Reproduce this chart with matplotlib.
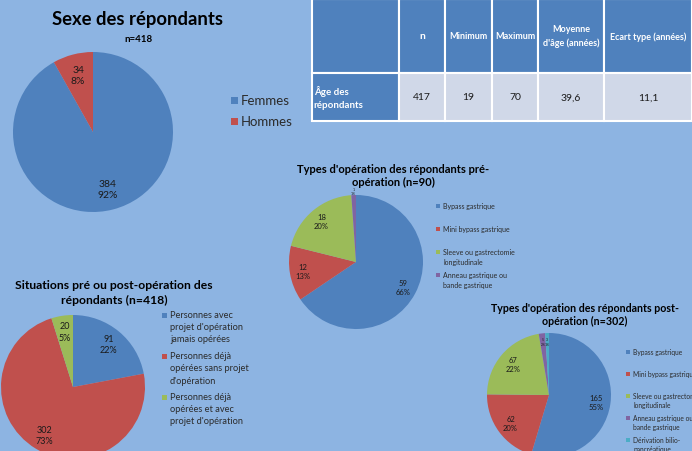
import numpy as np
import matplotlib
matplotlib.use('Agg')
import matplotlib.pyplot as plt
from matplotlib.patches import Rectangle

plt.rcParams['font.family'] = ['Lato', 'DejaVu Sans']

# --- données ---
sexe_labels = ['Femmes', 'Hommes']
sexe_n = [384, 34]
sexe_pct = [92, 8]

pre_labels = ['Bypass gastrique', 'Mini bypass gastrique',
              'Sleeve ou gastrectomie\nlongitudinale', 'Anneau gastrique ou\nbande gastrique']
pre_n = [59, 12, 18, 1]
pre_pct = [66, 13, 20, 1]

sit_labels = ["Personnes avec\nprojet d'opération\njamais opérées",
              "Personnes déjà\nopérées sans projet\nd'opération",
              "Personnes déjà\nopérées et avec\nprojet d'opération"]
sit_n = [91, 302, 20]
sit_pct = [22, 73, 5]

post_labels = ['Bypass gastrique', 'Mini bypass gastrique',
               'Sleeve ou gastrectomie\nlongitudinale', 'Anneau gastrique ou\nbande gastrique',
               'Dérivation bilio-\npancréatique']
post_n = [165, 62, 67, 5, 3]
post_pct = [55, 20, 22, 2, 1]

age_cols = ['', 'n', 'Minimum', 'Maximum', "Moyenne\nd'âge (années)", 'Ecart type (années)']
age_row = ['Âge des\nrépondants', '417', '19', '70', '39,6', '11,1']

BG = '#8DB4E2'
BLUE, RED, GREEN, PURPLE, CYAN = '#4F81BD', '#C0504D', '#9BBB59', '#8064A2', '#4BACC6'
COLORS = [BLUE, RED, GREEN, PURPLE, CYAN]
TXT = '#1A1A1A'

W, H = 692, 452
fig = plt.figure(figsize=(W / 100, H / 100), dpi=100, facecolor=BG)


def fx(x):
    return x / W


def fy(y):
    return 1 - y / H


def pie_axes(cx, cy, r):
    ax = fig.add_axes([fx(cx - r), fy(cy + r), 2 * r / W, 2 * r / H])
    ax.set_axis_off()
    return ax


def draw_pie(cx, cy, r, values, pcts, dist, fs, small_fs=None, small_dist=None):
    ax = pie_axes(cx, cy, r)
    wedges, _ = ax.pie(values, colors=COLORS[:len(values)], startangle=90,
                       counterclock=False, radius=1)
    for w, v, p in zip(wedges, values, pcts):
        ang = np.deg2rad((w.theta1 + w.theta2) / 2)
        size, d = fs, dist
        if p <= 2 and small_fs:
            size, d = small_fs, small_dist
        ax.text(d * np.cos(ang), d * np.sin(ang), f"{v}\n{p}%", ha='center', va='center',
                fontsize=size, color=TXT, linespacing=1.3)
    ax.set_xlim(-1, 1)
    ax.set_ylim(-1, 1)
    return wedges


def draw_legend(wedges, labels, x, y0, step, line_h, fs, box):
    # légende façon Excel : carré aligné sur la première ligne
    for i, (w, lab) in enumerate(zip(wedges, labels)):
        y = y0 + i * step
        fig.add_artist(Rectangle((fx(x), fy(y + box / 2)), box / W, box / H,
                                 transform=fig.transFigure, facecolor=w.get_facecolor(),
                                 edgecolor='none'))
        for j, line in enumerate(lab.split('\n')):
            fig.text(fx(x + box + 3), fy(y + j * line_h), line, ha='left', va='center',
                     fontsize=fs, color='#2B2B2B')


# --- Sexe des répondants ---
fig.text(fx(138), fy(20), 'Sexe des répondants', ha='center', va='center',
         fontsize=13.3, fontweight='bold')
fig.text(fx(138), fy(39), 'n=418', ha='center', va='center', fontsize=7, fontweight='bold')
w = draw_pie(93, 133, 80, sexe_n, sexe_pct, 0.74, 7.5)
draw_legend(w, sexe_labels, 231, 101, 21, 12, 9.5, 7)

# --- tableau âge ---
tax = fig.add_axes([fx(312), fy(122), (692 - 312) / W, 122 / H])
tax.set_axis_off()
tbl = tax.table(cellText=[age_cols, age_row], bbox=[0, 0, 1, 1], cellLoc='center',
                colWidths=[87, 46, 47, 46, 66, 88])
tbl.auto_set_font_size(False)
for (r, c), cell in tbl.get_celld().items():
    cell.set_edgecolor('white')
    cell.set_linewidth(1.5)
    cell.set_height(73 if r == 0 else 48)
    txt = cell.get_text()
    txt.set_linespacing(1.6)
    if r == 0 or c == 0:
        cell.set_facecolor(BLUE)
        txt.set_color('white')
        txt.set_fontweight('bold')
        txt.set_fontsize(6.5)
    else:
        cell.set_facecolor('#D0D8E8')
        txt.set_fontsize(7.5)
        txt.set_color(TXT)
    if r == 1 and c == 0:
        txt.set_horizontalalignment('left')
        cell.PAD = 0.02
        txt.set_fontsize(7)
    if r == 0 and c == 1:
        txt.set_fontsize(7.5)

# --- pré-opération ---
fig.text(fx(393), fy(176), "Types d'opération des répondants pré-\nopération (n=90)",
         ha='center', va='center', fontsize=8, fontweight='bold', linespacing=1.3)
w = draw_pie(356, 263, 67, pre_n, pre_pct, 0.8, 5.5, small_fs=2.5, small_dist=1.06)
draw_legend(w, pre_labels, 436, 207, 23, 10, 5, 4)

# --- situations ---
fig.text(fx(114), fy(293), "Situations pré ou post-opération des\nrépondants (n=418)",
         ha='center', va='center', fontsize=8.7, fontweight='bold', linespacing=1.45)
w = draw_pie(73, 388, 72, sit_n, sit_pct, 0.78, 6.5)
draw_legend(w, sit_labels, 162, 316, 41, 12, 6.7, 5)

# --- post-opération ---
fig.text(fx(585), fy(315), "Types d'opération des répondants post-\nopération (n=302)",
         ha='center', va='center', fontsize=7.7, fontweight='bold', linespacing=1.3)
w = draw_pie(549, 396, 62, post_n, post_pct, 0.77, 5.5, small_fs=2.5, small_dist=0.87)
draw_legend(w, post_labels, 626, 353, 22, 9, 4.8, 4)

fig.savefig('out.png', dpi=100, facecolor=BG)
